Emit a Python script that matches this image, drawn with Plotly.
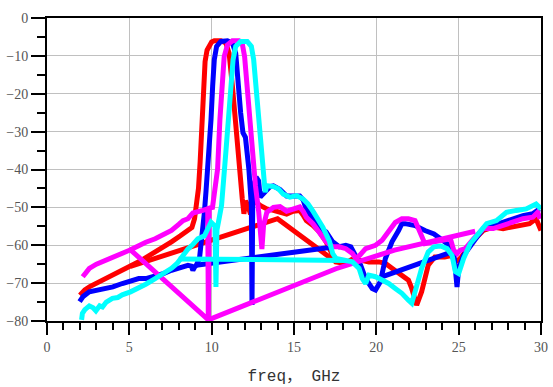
import plotly.graph_objects as go

N = None
# ---- red series ----
red_x = [2.0, 2.3, 2.6, 3.0, 3.5, 4.0, 4.5, 5.07, 5.6, 6.1, 6.57, 7.1, 7.56, 8.1, 8.56, 8.8, 8.96, 9.06, 9.2, 9.3, 9.4, 9.5, 9.6, 9.72, 9.86, 10.0, 10.16, 10.56, 10.86, 11.06, 11.26, 11.46, 11.66, 11.86, 11.96, 12.06, 12.2, 12.36, 12.5, 12.7, 12.95, 13.35, 13.75, 14.15, 14.55, 14.95, 15.35, 15.55, 15.75, 16.15, 16.55, 16.95, 17.35, 17.55, 18.1, 18.5, 19.1, 19.55, 20.15, 20.55, 20.95, 21.55, 21.95, 22.15, 22.35, 22.45, 22.75, 23.15, 23.55, 24.15, 24.55, 24.8, 25.1, 25.5, 25.9, 26.5, 27.1, 27.7, 28.3, 28.9, 29.3, 29.7, 30.0,
         N, 5.07, 14.0, 17.55]
red_y = [-73.2, -71.8, -70.9, -70.0, -69.0, -68.0, -67.0, -65.6, -64.3, -63.0, -61.8, -60.5, -59.1, -57.5, -55.8, -55.3, -53.0, -50.4, -45.0, -38.0, -28.0, -18.0, -11.5, -8.5, -7.0, -6.3, -6.0, -6.0, -6.6, -9.3, -18.0, -29.4, -39.9, -47.8, -51.7, -48.3, -49.5, -51.8, -49.0, -48.6, -49.5, -50.4, -50.8, -51.2, -51.8, -51.0, -50.8, -52.0, -53.5, -54.8, -56.5, -59.1, -62.7, -64.4, -64.8, -63.8, -64.0, -64.4, -64.4, -64.8, -66.1, -67.9, -69.2, -71.4, -74.9, -75.8, -72.3, -65.3, -63.1, -63.1, -62.7, -64.4, -63.5, -60.9, -58.7, -56.1, -55.2, -55.6, -55.2, -54.8, -54.3, -53.0, -56.1,
         N, -65.6, -53.0, -64.4]

# ---- blue series ----
blue_x = [1.98, 2.2, 2.57, 3.0, 3.57, 4.0, 4.57, 5.0, 5.57, 6.0, 6.57, 7.0, 7.56, 8.0, 8.56, 8.76, 8.86, 9.0, 9.06, 9.26, 9.36, 9.46, 9.56, 9.66, 9.76, 9.86, 9.96, 10.06, 10.16, 10.3, 10.56, 10.96, 11.26, 11.46, 11.6, 11.76, 11.9, 12.05, 12.26, 12.41, 12.45, 12.5, 12.7, 12.85, 12.95, 13.15, 13.35, 13.55, 13.75, 14.15, 14.55, 14.95, 15.35, 15.55, 15.75, 16.15, 16.55, 16.95, 17.35, 17.75, 18.15, 18.45, 18.75, 19.05, 19.35, 19.75, 19.95, 20.25, 20.55, 20.95, 21.35, 21.55, 21.75, 22.35, 22.95, 23.5, 23.9, 24.3, 24.7, 24.8, 24.9, 25.0, 25.3, 25.9, 26.5, 27.1, 27.7, 28.3, 28.9, 29.5, 29.9,
          N, 9.06, 17.15, N, 20.25, 24.55]
blue_y = [-74.9, -73.5, -72.3, -72.0, -71.4, -71.0, -70.1, -69.6, -68.8, -68.8, -68.3, -67.6, -66.6, -66.0, -65.3, -65.5, -66.6, -65.5, -65.3, -63.5, -60.0, -55.6, -51.3, -45.5, -40.0, -35.5, -26.8, -18.0, -11.0, -7.5, -6.2, -6.0, -6.6, -9.3, -18.0, -25.0, -30.3, -31.5, -39.9, -49.5, -75.8, -45.0, -42.0, -43.0, -47.3, -46.5, -45.5, -44.5, -44.3, -45.3, -47.0, -46.9, -47.0, -48.0, -50.5, -53.0, -55.5, -56.5, -59.1, -60.4, -60.0, -60.4, -62.7, -65.3, -68.8, -71.4, -71.8, -69.6, -63.5, -59.1, -56.1, -54.3, -54.3, -54.8, -56.1, -57.0, -58.3, -59.6, -61.8, -67.0, -71.0, -66.1, -62.7, -59.1, -55.6, -54.8, -53.9, -53.0, -52.2, -51.7, -50.4,
          N, -65.3, -60.6, N, -68.5, -61.8]

# ---- magenta series ----
mag_x = [2.17, 2.4, 2.57, 3.0, 3.57, 4.0, 4.57, 5.07, 9.8, 9.85, 10.05, 10.16, 10.36, 10.5, 10.6, 10.76, 10.96, 11.26, 11.66, 11.86, 12.0, 12.16, 12.3, 12.46, 12.66, 12.86, 12.96, 13.05, 13.15, 13.35, 13.75, 14.15, 14.55, 14.95, 15.35, 15.55, 15.75, 16.15, 16.55, 16.95, 17.35, 17.75, 18.15, 18.55, 18.75, 19.0, 19.35, 19.95, 20.35, 20.75, 21.15, 21.55, 21.95, 22.35, 22.65, 22.95, 23.5, 24.1, 24.5, 24.7, 24.9, 25.1, 25.4, 25.9, 26.5, 27.1, 27.7, 28.3, 28.9, 29.5, 29.8, 29.95,
         N, 5.07, 5.6, 6.0, 6.57, 7.0, 7.56, 8.0, 8.26, 8.56, 8.86, 9.46, 9.76, 9.8,
         N, 9.8, 15.15, 17.55, 21.1, 26.0]
mag_y = [-68.3, -67.0, -66.1, -65.0, -64.0, -63.2, -62.2, -61.2, -79.7, -50.2, -50.0, -47.0, -39.9, -26.8, -18.0, -10.2, -7.1, -6.0, -6.0, -6.8, -10.2, -18.0, -26.8, -35.5, -44.3, -51.3, -58.0, -61.0, -54.8, -51.3, -50.0, -49.8, -51.0, -50.5, -49.9, -51.0, -52.6, -54.3, -57.0, -59.1, -60.4, -60.4, -60.9, -62.2, -63.5, -62.6, -60.9, -60.0, -58.7, -56.1, -54.0, -53.0, -53.0, -53.5, -56.5, -59.6, -59.1, -58.7, -58.3, -61.3, -62.2, -61.3, -60.9, -58.3, -55.6, -55.6, -54.8, -53.9, -53.0, -52.6, -51.3, -53.0,
         N, -61.2, -59.9, -59.2, -58.3, -57.3, -56.1, -54.5, -53.5, -53.0, -51.5, -50.8, -50.4, -79.7,
         N, -79.7, -70.5, -66.2, -61.3, -56.3]

# ---- cyan series ----
cyan_x = [2.1, 2.15, 2.3, 2.57, 2.8, 2.97, 3.2, 3.37, 3.6, 3.97, 4.3, 4.57, 5.07, 5.57, 6.0, 6.57, 7.0, 7.56, 7.9, 8.26, 8.56, 8.86, 9.16, 9.56, 9.86, 9.96, 10.1, 10.2, 10.26, 10.32, 10.45, 10.6, 10.86, 11.0, 11.16, 11.3, 11.46, 11.76, 12.16, 12.41, 12.55, 12.7, 12.86, 13.0, 13.15, 13.25, 13.35, 13.75, 14.05, 14.35, 14.75, 15.15, 15.55, 15.85, 16.15, 16.75, 17.15, 17.35, 17.55, 18.15, 18.55, 18.95, 19.15, 19.35, 19.55, 19.95, 20.35, 20.75, 21.15, 21.55, 21.95, 22.15, 22.35, 22.75, 23.15, 23.5, 23.9, 24.3, 24.6, 24.8, 25.0, 25.3, 25.7, 26.1, 26.7, 27.3, 27.9, 28.5, 29.1, 29.7, 30.0,
          N, 8.0, 18.15]
cyan_y = [-79.7, -78.0, -77.0, -76.0, -76.5, -77.3, -76.0, -76.3, -75.0, -74.0, -73.8, -73.1, -72.3, -71.4, -70.3, -68.8, -67.7, -66.1, -64.8, -62.5, -61.0, -59.8, -58.3, -57.5, -55.2, -53.9, -54.5, -55.0, -71.0, -56.0, -53.0, -49.5, -35.5, -26.8, -18.0, -11.0, -7.5, -6.2, -6.2, -7.5, -11.0, -18.0, -26.8, -35.5, -42.5, -46.0, -44.3, -44.5, -45.1, -46.5, -47.3, -46.9, -47.8, -49.1, -51.0, -55.2, -58.9, -62.2, -63.5, -64.0, -64.4, -66.1, -68.8, -70.1, -67.9, -68.3, -69.2, -70.1, -71.4, -72.7, -74.5, -75.3, -72.3, -66.1, -61.8, -60.4, -60.2, -60.9, -62.7, -67.0, -67.5, -63.5, -59.6, -57.4, -54.3, -53.5, -51.3, -50.8, -50.4, -49.1, -50.4,
          N, -63.6, -64.0]

x_ticks = [0, 5, 10, 15, 20, 25, 30]
y_ticks = [-80, -70, -60, -50, -40, -30, -20, -10, 0]

series = [
    (red_x, red_y, "#ff0000"),
    (blue_x, blue_y, "#0000ff"),
    (mag_x, mag_y, "#ff00ff"),
    (cyan_x, cyan_y, "#00ffff"),
]

fig = go.Figure()
for xs, ys, col in series:
    fig.add_trace(go.Scatter(x=xs, y=ys, mode="lines", connectgaps=False,
                             line=dict(color=col, width=5), showlegend=False,
                             hoverinfo="skip"))

tickfont = dict(family="Liberation Serif, DejaVu Serif, serif", size=14, color="#555555")
fig.update_layout(
    width=553, height=387,
    margin=dict(l=47, r=5, t=18, b=64),
    paper_bgcolor="white", plot_bgcolor="white",
    xaxis=dict(range=[0, 30], tickvals=x_ticks, ticks="outside", ticklen=12, tickwidth=2,
               tickcolor="black", showline=True, linecolor="black", linewidth=2, mirror=True,
               showgrid=True, gridcolor="#c0c0c0", gridwidth=1, zeroline=False,
               tickfont=tickfont,
               minor=dict(dtick=1, ticks="outside", ticklen=7, tickwidth=2, tickcolor="black", showgrid=False),
               title=dict(text="freq， GHz", standoff=16,
                          font=dict(family="Liberation Mono, Noto Sans CJK SC, monospace", size=16, color="#333333"))),
    yaxis=dict(range=[-80, 0], tickvals=y_ticks, ticks="outside", ticklen=14, tickwidth=2,
               tickcolor="black", showline=True, linecolor="black", linewidth=2, mirror=True,
               showgrid=True, gridcolor="#c0c0c0", gridwidth=1, zeroline=False,
               tickfont=tickfont,
               minor=dict(dtick=5, ticks="outside", ticklen=8, tickwidth=2, tickcolor="black", showgrid=False)),
)
fig.write_html("out.html")
